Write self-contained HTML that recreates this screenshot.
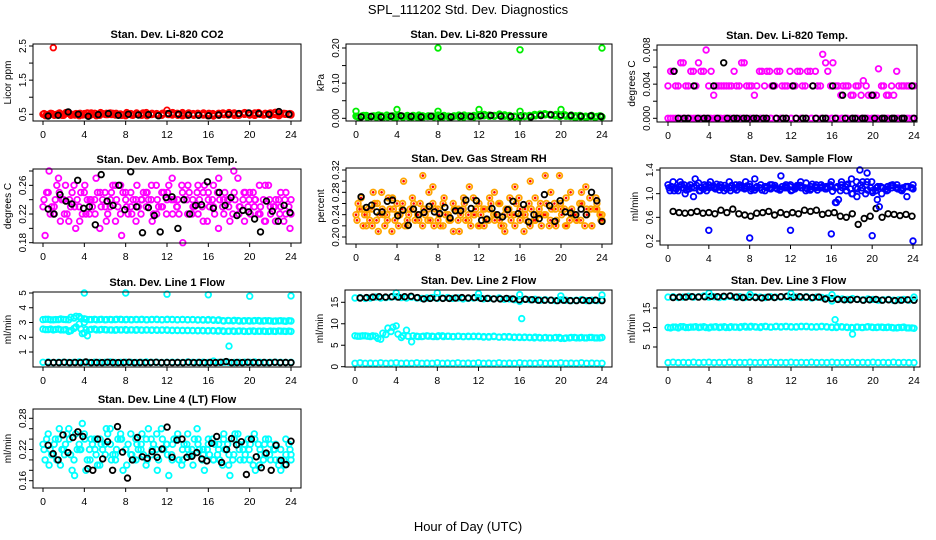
<!DOCTYPE html>
<html><head><meta charset="utf-8">
<style>
html,body{margin:0;padding:0;background:#fff;}
svg{display:block;font-family:"Liberation Sans",sans-serif;}
</style></head>
<body>
<svg id="chart" width="936" height="540" viewBox="0 0 936 540" xmlns="http://www.w3.org/2000/svg">
<rect x="0" y="0" width="936" height="540" fill="#fff"/>
<text x="468" y="14" text-anchor="middle" font-size="13">SPL_111202  Std. Dev. Diagnostics</text>
<text x="468" y="531" text-anchor="middle" font-size="13">Hour of Day (UTC)</text>
</svg>
<script>
// ---------- data arrays ----------
const hourTicks = [0,4,8,12,16,20,24];

// P1 CO2
const co2Red1 = [0.5,0.48,2.45,0.52,0.47,0.55,0.5,0.46,0.52,0.49,0.53,0.47,0.5,0.54,0.48,0.51,0.46,0.52,0.5,0.48,0.55,0.49,0.52,0.47,0.62,0.5,0.53,0.46,0.51,0.49,0.52,0.48,0.5,0.45,0.53,0.49,0.55,0.47,0.52,0.5,0.48,0.54,0.5,0.53,0.47,0.56,0.5,0.52,0.48];
const co2Red2 = [0.46,0.53,0.49,0.51,0.55,0.47,0.52,0.5,0.48,0.54,0.46,0.51,0.53,0.49,0.5,0.47,0.55,0.48,0.52,0.51,0.46,0.53,0.5,0.49,0.52,0.48,0.51,0.55,0.47,0.5,0.53,0.49,0.46,0.52,0.5,0.54,0.48,0.51,0.47,0.53,0.5,0.49,0.55,0.48,0.52,0.5,0.46,0.53,0.49];
const co2Red3 = [0.52,0.5,0.47,0.54,0.5,0.52,0.48,0.53,0.5,0.47,0.52,0.55,0.49,0.5,0.53,0.48,0.51,0.5,0.54,0.47,0.52,0.5,0.48,0.53,0.5,0.55,0.47,0.51,0.5,0.52,0.48,0.54,0.51,0.49,0.47,0.52,0.5,0.53,0.49,0.55,0.51,0.47,0.5,0.52,0.54,0.49,0.53,0.5,0.51];
const co2Red4 = [0.49,0.52,0.5,0.47,0.53,0.49,0.51,0.48,0.54,0.5,0.47,0.52,0.49,0.53,0.5,0.48,0.52,0.47,0.5,0.54,0.49,0.51,0.47,0.53,0.49,0.52,0.5,0.48,0.54,0.47,0.51,0.5,0.53,0.48,0.52,0.49,0.51,0.54,0.48,0.5,0.53,0.47,0.52,0.49,0.51,0.55,0.48,0.5,0.52];
const co2Black = [0.45,0.47,0.57,0.5,0.44,0.49,0.52,0.47,0.5,0.48,0.49,0.46,0.52,0.5,0.48,0.47,0.46,0.48,0.5,0.52,0.54,0.52,0.5,0.58,0.5];

// P2 Pressure
const presGreen1 = [0.006,0.004,0.008,0.005,0.003,0.007,0.009,0.005,0.004,0.006,0.008,0.004,0.003,0.007,0.005,0.006,0.009,0.004,0.006,0.005,0.007,0.003,0.006,0.008,0.01,0.007,0.009,0.006,0.008,0.01,0.007,0.005,0.004,0.006,0.003,0.007,0.01,0.012,0.009,0.011,0.008,0.006,0.009,0.004,0.006,0.003,0.008,0.005,0.004];
const presGreen2 = [0.003,0.008,0.005,0.007,0.009,0.004,0.006,0.003,0.008,0.005,0.004,0.007,0.009,0.005,0.006,0.004,0.003,0.008,0.005,0.007,0.004,0.009,0.005,0.006,0.008,0.011,0.006,0.008,0.012,0.007,0.004,0.006,0.003,0.005,0.008,0.011,0.009,0.013,0.01,0.007,0.005,0.01,0.006,0.003,0.008,0.004,0.006,0.003,0.007];
const presGreen3 = [0.005,0.007,0.003,0.006,0.008,0.005,0.004,0.007,0.006,0.003,0.005,0.008,0.006,0.004,0.007,0.005,0.008,0.006,0.004,0.006,0.009,0.005,0.007,0.004,0.006,0.009,0.008,0.007,0.01,0.006,0.008,0.004,0.006,0.007,0.005,0.009,0.012,0.01,0.011,0.008,0.007,0.009,0.005,0.007,0.004,0.006,0.005,0.004,0.006];
const presSpikeHours = [0,4,8,8,12,16,16,20,24];
const presSpikeVals = [0.02,0.025,0.2,0.02,0.025,0.195,0.02,0.025,0.2];
const presBlack = [0.004,0.005,0.004,0.006,0.007,0.005,0.004,0.006,0.005,0.004,0.006,0.005,0.007,0.008,0.006,0.005,0.007,0.004,0.008,0.01,0.009,0.008,0.006,0.007,0.005];

// P3 Li-820 temperature
const tempMagA = [0.0038,0.0055,0.0038,0.0065,0.0038,0.0055,0.0065,0.0055,0.0038,0.0027,0.0038,0.0038,0.0038,0.0055,0.0038,0.0065,0.0038,0.0027,0.0055,0.0038,0.0055,0.0038,0.0055,0.0038,0.0055,0.0038,0.0055,0.0038,0.0055,0.0055,0.0038,0.0065,0.0038,0.0038,0.0027,0.0038,0.0027,0.0038,0.0027,0.0038,0.0027,0.0027,0.0038,0.0027,0.0038,0.0055,0.0038,0.0038,0.0038];
const tempMagB = [0.0055,0.0038,0.0065,0.0038,0.0055,0.0038,0.0055,0.008,0.0055,0.0038,0.0038,0.0038,0.0038,0.0038,0.0065,0.0038,0.0038,0.0038,0.0055,0.0055,0.0038,0.0055,0.0038,0.0038,0.0038,0.0055,0.0038,0.0055,0.0038,0.0038,0.0075,0.0055,0.0065,0.0038,0.0038,0.0038,0.0027,0.0038,0.0044,0.0027,0.0027,0.0058,0.0038,0.0027,0.0027,0.0038,0.0038,0.0038,0.0038];
const tempMagZero = [0,0,0,0,0,0,0,0,0,0,0,0,0,0,0,0,0,0,0,0,0,0,0,0,0,0,0,0,0,0,0,0,0,0,0,0,0,0,0,0,0,0,0,0,0,0,0,0,0];
const tempMagZero2 = [0,0,0,0,0,0,0,0,0,0,0,0,0,0,0,0,0,0,0,0,0,0,0,0,0,0,0,0,0,0,0,0,0,0,0,0,0,0,0,0,0,0,0,0,0,0,0,0,0];
const tempBlack = [0.0055,0,0.0038,0,0.0038,0.0065,0,0,0,0,0.0038,0,0.0038,0,0.0038,0,0.0038,0.0027,0,0,0.0027,0,0,0,0.0038];
const tempBlackZero = [0,0,0,0,0,0,0,0,0,0,0,0,0,0,0,0,0,0,0,0,0,0,0,0,0];

// P4 Amb box temp
const ambMagA = [0.23,0.25,0.22,0.27,0.24,0.21,0.26,0.23,0.25,0.22,0.24,0.2,0.25,0.23,0.26,0.22,0.24,0.25,0.21,0.24,0.23,0.26,0.22,0.25,0.24,0.27,0.23,0.25,0.22,0.24,0.26,0.21,0.25,0.23,0.27,0.22,0.24,0.25,0.23,0.21,0.25,0.24,0.22,0.26,0.23,0.21,0.25,0.22,0.24];
const ambMagB = [0.19,0.22,0.24,0.21,0.26,0.23,0.2,0.25,0.22,0.24,0.27,0.23,0.21,0.25,0.24,0.19,0.23,0.22,0.26,0.24,0.25,0.21,0.24,0.23,0.25,0.22,0.24,0.18,0.26,0.23,0.22,0.25,0.24,0.26,0.2,0.24,0.23,0.28,0.22,0.25,0.24,0.23,0.26,0.21,0.24,0.23,0.22,0.24,0.2];
const ambMagC = [0.24,0.28,0.23,0.25,0.22,0.24,0.23,0.21,0.26,0.24,0.22,0.25,0.23,0.24,0.21,0.26,0.25,0.23,0.24,0.22,0.25,0.24,0.26,0.23,0.22,0.24,0.23,0.26,0.24,0.22,0.25,0.23,0.21,0.24,0.25,0.23,0.24,0.22,0.27,0.24,0.23,0.25,0.22,0.24,0.26,0.23,0.24,0.21,0.23];
const ambMagD = [0.25,0.23,0.26,0.24,0.22,0.25,0.24,0.22,0.24,0.23,0.25,0.24,0.22,0.26,0.23,0.25,0.22,0.24,0.23,0.25,0.24,0.22,0.23,0.25,0.26,0.24,0.22,0.24,0.25,0.23,0.24,0.26,0.23,0.22,0.24,0.25,0.21,0.24,0.23,0.25,0.22,0.24,0.23,0.21,0.22,0.24,0.23,0.25,0.22];
const ambBlack = [0.227,0.22,0.247,0.238,0.234,0.267,0.228,0.23,0.205,0.275,0.238,0.232,0.26,0.226,0.279,0.23,0.194,0.229,0.218,0.195,0.243,0.244,0.2,0.24,0.22,0.232,0.233,0.265,0.228,0.25,0.232,0.243,0.218,0.225,0.223,0.213,0.195,0.238,0.224,0.21,0.232,0.222];

// P5 Gas stream RH
const rhA = [0.24,0.27,0.22,0.25,0.23,0.28,0.24,0.21,0.26,0.25,0.23,0.27,0.24,0.22,0.25,0.29,0.23,0.26,0.24,0.21,0.25,0.27,0.23,0.24,0.26,0.22,0.25,0.28,0.23,0.24,0.27,0.22,0.25,0.24,0.3,0.23,0.26,0.24,0.28,0.22,0.25,0.27,0.24,0.23,0.28,0.25,0.22,0.26,0.24];
const rhB = [0.26,0.22,0.25,0.28,0.21,0.24,0.27,0.25,0.22,0.3,0.24,0.26,0.23,0.25,0.28,0.22,0.24,0.27,0.23,0.25,0.21,0.26,0.29,0.24,0.22,0.25,0.27,0.23,0.26,0.21,0.24,0.29,0.23,0.25,0.22,0.27,0.24,0.31,0.23,0.25,0.26,0.22,0.28,0.24,0.23,0.29,0.25,0.27,0.23];
const rhC = [0.23,0.25,0.24,0.22,0.26,0.25,0.23,0.27,0.24,0.26,0.22,0.25,0.24,0.31,0.23,0.26,0.25,0.22,0.24,0.26,0.23,0.25,0.24,0.27,0.22,0.25,0.23,0.24,0.26,0.22,0.25,0.24,0.27,0.21,0.26,0.23,0.25,0.24,0.22,0.26,0.31,0.25,0.23,0.24,0.26,0.22,0.27,0.25,0.24];
const rhD = [0.25,0.24,0.23,0.26,0.24,0.22,0.25,0.23,0.24,0.22,0.25,0.23,0.26,0.24,0.23,0.25,0.22,0.24,0.23,0.25,0.24,0.23,0.22,0.25,0.24,0.23,0.26,0.24,0.22,0.25,0.23,0.26,0.24,0.23,0.25,0.24,0.22,0.26,0.25,0.23,0.24,0.22,0.25,0.23,0.26,0.24,0.22,0.25,0.23];
const rhBlack = [0.272,0.253,0.257,0.245,0.245,0.264,0.266,0.238,0.248,0.221,0.25,0.24,0.244,0.255,0.245,0.242,0.253,0.234,0.247,0.247,0.266,0.251,0.265,0.23,0.232,0.251,0.24,0.236,0.249,0.264,0.242,0.258,0.227,0.24,0.233,0.276,0.256,0.228,0.265,0.245,0.243,0.24,0.25,0.24,0.28,0.265,0.228];

// P6 Sample flow
const sfBlueA = [1.15,1.2,1.05,1.1,1.12,0.95,1.18,1.08,1.15,1.1,1.12,1.05,1.2,1.1,1.15,1.08,1.12,1.25,1.1,1.05,1.15,1.1,1.08,1.12,1.15,1.1,1.2,1.05,1.12,1.1,1.15,1.08,1.12,1.1,1.2,1.15,1.0,0.95,1.1,1.2,1.05,0.9,1.1,1.12,1.15,1.08,1.1,1.12,1.15];
const sfBlueB = [1.05,1.1,1.2,1.0,1.15,1.25,1.05,1.12,1.2,1.08,1.15,1.1,1.05,1.15,1.1,1.2,1.05,1.1,1.15,1.12,1.08,1.1,1.3,1.15,1.05,1.12,1.1,1.18,1.08,1.15,1.1,1.12,1.2,0.85,1.15,1.05,1.25,1.2,1.05,1.15,1.2,1.1,1.0,1.05,1.1,1.15,1.05,0.95,1.1];
const sfBlueC = [1.1,1.05,1.12,1.15,1.08,1.1,1.05,1.15,1.1,1.12,1.06,1.14,1.1,1.08,1.12,1.1,1.16,1.06,1.1,1.12,1.1,1.14,1.06,1.1,1.12,1.08,1.14,1.1,1.06,1.12,1.1,1.08,1.15,1.1,1.05,1.12,1.08,1.1,1.15,1.0,1.1,1.05,1.12,1.08,1.14,1.1,1.06,1.12,1.1];
const sfBlueD = [1.12,1.08,1.15,1.06,1.1,1.14,1.1,1.05,1.12,1.16,1.1,1.08,1.14,1.06,1.1,1.13,1.08,1.12,1.06,1.1,1.15,1.08,1.12,1.1,1.06,1.14,1.1,1.08,1.16,1.06,1.12,1.1,1.04,1.12,1.1,1.16,1.0,1.08,1.2,1.06,1.02,1.12,1.1,1.06,1.14,1.1,1.08,1.12,1.08];
const sfOutHours = [4,8,12,16,16.4,16.7,18.8,19.5,20,20.7,24];
const sfOutVals = [0.38,0.25,0.38,0.32,0.85,0.9,1.4,1.35,0.29,0.78,0.2];
const sfBlack = [0.7,0.68,0.67,0.68,0.7,0.67,0.68,0.66,0.72,0.68,0.74,0.66,0.64,0.62,0.67,0.68,0.7,0.64,0.68,0.65,0.68,0.66,0.72,0.7,0.72,0.65,0.67,0.68,0.62,0.6,0.66,0.48,0.58,0.62,0.75,0.6,0.66,0.65,0.63,0.65,0.62];

// P7 Line 1
const l1Top = [3.2,3.22,3.18,3.2,3.21,3.19,3.3,3.4,3.25,3.2,3.22,3.2,3.18,3.21,3.2,3.22,3.19,3.2,3.21,3.2,3.18,3.2,3.22,3.19,3.2,3.21,3.18,3.2,3.19,3.2,3.18,3.17,3.2,3.15,3.18,3.1,3.12,3.15,3.1,3.12,3.1,3.13,3.1,3.12,3.11,3.1,3.12,3.08,3.1];
const l1Top2 = [3.22,3.18,3.2,3.24,3.2,3.35,3.42,3.28,3.22,3.2,3.18,3.22,3.2,3.19,3.22,3.2,3.21,3.18,3.2,3.22,3.19,3.21,3.2,3.18,3.22,3.2,3.19,3.21,3.18,3.2,3.17,3.19,3.16,3.18,3.14,3.12,3.14,3.11,3.13,3.1,3.12,3.11,3.13,3.1,3.12,3.09,3.11,3.1,3.12];
const l1Mid = [2.55,2.52,2.5,2.55,2.5,2.4,2.6,2.9,2.3,2.5,2.55,2.5,2.52,2.5,2.48,2.5,2.52,2.5,2.48,2.5,2.49,2.47,2.5,2.48,2.5,2.46,2.48,2.45,2.47,2.45,2.46,2.44,2.45,2.43,2.45,2.4,2.42,2.4,2.43,2.4,2.42,2.4,2.41,2.4,2.42,2.4,2.41,2.4,2.4];
const l1Mid2 = [2.52,2.55,2.53,2.5,2.52,2.45,2.7,2.55,2.52,2.54,2.5,2.53,2.5,2.49,2.51,2.5,2.48,2.5,2.51,2.48,2.5,2.49,2.47,2.5,2.47,2.48,2.46,2.47,2.45,2.46,2.44,2.46,2.43,2.45,2.42,2.44,2.41,2.43,2.41,2.42,2.4,2.43,2.41,2.42,2.4,2.41,2.43,2.41,2.42];
const l1Low = [0.3,0.32,0.28,0.3,0.31,0.29,0.3,0.33,0.3,0.29,0.31,0.3,0.3,0.32,0.29,0.3,0.31,0.3,0.29,0.3,0.32,0.3,0.31,0.29,0.3,0.31,0.3,0.29,0.32,0.3,0.3,0.31,0.29,0.38,0.3,0.31,0.3,0.29,0.3,0.31,0.3,0.32,0.3,0.29,0.3,0.31,0.3,0.29,0.3];
const l1OutHours = [3.8,4,4,4.3,8,12,16,18,20,24];
const l1OutVals = [2.25,3.0,5.0,2.1,5.0,4.92,4.88,1.4,4.78,4.8];
const l1Black = [0.28,0.29,0.28,0.3,0.28,0.29,0.28,0.32,0.28,0.29,0.28,0.3,0.29,0.28,0.29,0.3,0.28,0.29,0.28,0.29,0.3,0.28,0.29,0.28,0.29,0.28,0.3,0.28,0.29,0.28,0.29,0.28,0.3,0.35,0.28,0.29,0.28,0.3,0.29,0.28,0.29,0.28,0.3,0.28,0.29,0.28];

// P8 Line 2
const l2Top = [16,16.1,15.9,16,16.2,16,16.1,16.2,16.3,16.1,16,16.2,16,15.9,16,16.1,15.9,16,16.1,15.9,16,15.8,15.9,16,16.1,15.8,15.9,15.8,16,15.7,15.8,15.6,15.2,15.7,15.6,15.7,15.5,15.6,15.5,15.4,15.6,15.5,15.4,15.5,15.6,15.4,15.5,15.4,15.6];
const l2Mid = [7.2,7.1,7.2,7.0,7.1,6.4,7.5,8.2,9.5,6.8,8.5,5.8,7.1,7.0,7.2,7.1,7.0,7.2,7.1,7.0,7.1,7.0,7.1,7.0,7.1,6.9,7.0,7.1,6.9,7.0,6.9,6.9,6.8,6.9,6.8,6.9,6.7,6.8,6.7,6.8,6.6,6.7,6.8,6.7,6.8,6.7,6.8,6.7,6.8];
const l2Mid2 = [7.1,7.2,7.1,7.2,6.6,7.8,9.0,9.2,7.6,7.2,7.1,7.2,7.0,7.1,7.1,7.0,7.2,7.0,7.1,7.0,7.1,7.0,7.0,7.1,7.0,7.0,6.9,7.0,6.9,6.9,7.0,6.8,6.9,6.8,6.8,6.7,6.8,6.7,6.7,6.7,6.8,6.6,6.7,6.8,6.7,6.7,6.8,6.7,6.7];
const l2Low = [0.8,0.9,0.8,0.85,0.8,0.9,0.8,0.85,0.9,0.8,0.85,0.8,0.9,0.8,0.85,0.8,0.9,0.8,0.85,0.8,0.9,0.8,0.85,0.8,0.9,0.8,0.85,0.8,0.9,0.8,0.85,0.8,0.9,0.8,0.85,0.8,0.9,0.8,0.85,0.8,0.9,0.8,0.85,0.8,0.9,0.8,0.85,0.8,0.8];
const l2OutHours = [4,8,12,16,16.2,20,24];
const l2OutVals = [17.2,17.2,17,16.8,11.2,16.5,16.7];
const l2Black = [16,16.1,16.2,16.3,16.2,16.3,16.2,16.3,16.4,16.1,15.8,15.9,16,15.9,15.9,16,16.1,16,16.1,15.9,15.9,15.8,15.8,15.9,15.8,15.6,15.7,15.6,15.5,15.5,15.5,15.4,15.5,15.4,15.4,15.5,15.4,15.5,15.4];

// P9 Line 3
const l3Top = [17.8,17.9,17.7,17.8,18,17.8,17.9,18.1,17.8,17.9,17.7,17.8,18,17.8,17.9,17.7,17.8,17.9,17.8,17.7,17.9,17.8,17.8,17.9,17.7,17.8,17.7,17.9,17.6,17.8,17.7,17.6,16.8,17.4,17.3,17.2,17.4,17.2,17.1,17.3,17.2,17.0,17.1,17.2,17.0,17.1,17.2,17.0,17.1];
const l3Mid = [10,10.1,9.9,10.2,10,10.1,10,10.2,9.9,10.1,10,10.2,10,10.1,10,10.3,10.1,10.2,10,10.3,10.1,10.2,10.1,10.3,10.2,10.1,10.3,10.2,10.1,10.2,10.3,10.1,10,10.2,10.1,10.0,9.9,10.1,10.0,10.2,10.0,10.1,10.0,10.1,9.9,10.0,10.1,9.9,9.8];
const l3Mid2 = [9.9,10.1,10.2,10,10.1,10.2,10.1,10,10.1,10.2,10.1,10,10.2,10.1,10.2,10.1,10.3,10.1,10.2,10.2,10.1,10.3,10.2,10.2,10.1,10.2,10.2,10.3,10.2,10.1,10.2,10.2,10.1,10.0,10.2,10.1,10.0,10.1,10.0,10.1,10.1,10.0,10.1,10.0,10.0,9.9,10.0,9.9,9.9];
const l3Low = [1,1.1,1,1.05,1,1.1,1,1.05,1.1,1,1.05,1,1.1,1,1.05,1,1.1,1,1.05,1,1.1,1,1.05,1,1.1,1,1.05,1,1.1,1,1.05,1,1.1,1,1.05,1,1.1,1,1.05,1,1.1,1,1.05,1,1.1,1,1.05,1,1];
const l3OutHours = [4,8,12,16,16.3,18,24];
const l3OutVals = [18.8,18.5,18.7,18.4,12,8.3,17.8];
const l3Black = [17.7,17.8,17.8,17.9,17.8,17.9,18,17.9,18,18.1,17.8,17.7,17.8,17.7,17.6,17.8,17.7,17.9,18.0,17.8,17.9,17.8,17.7,17.8,17.3,17.4,17.2,17.1,17.1,17.2,17.0,17.1,17.2,17.0,17.1,16.9,17.0,17.1,17.0];

// P10 Line 4 (LT)
const l4A = [0.23,0.25,0.21,0.24,0.22,0.26,0.2,0.23,0.25,0.22,0.24,0.19,0.23,0.26,0.21,0.24,0.22,0.25,0.2,0.23,0.24,0.21,0.25,0.22,0.23,0.2,0.24,0.22,0.25,0.21,0.23,0.22,0.24,0.2,0.23,0.25,0.21,0.24,0.22,0.23,0.2,0.24,0.22,0.21,0.23,0.2,0.22,0.24,0.21];
const l4B = [0.2,0.22,0.24,0.19,0.23,0.21,0.25,0.22,0.18,0.24,0.21,0.23,0.26,0.2,0.22,0.24,0.19,0.21,0.23,0.25,0.2,0.22,0.18,0.24,0.21,0.23,0.25,0.2,0.22,0.19,0.24,0.21,0.23,0.2,0.22,0.24,0.19,0.21,0.23,0.2,0.22,0.25,0.19,0.23,0.21,0.22,0.2,0.19,0.22];
const l4C = [0.22,0.19,0.23,0.26,0.21,0.24,0.17,0.22,0.24,0.2,0.22,0.24,0.21,0.23,0.2,0.25,0.22,0.21,0.24,0.22,0.19,0.24,0.22,0.26,0.23,0.21,0.24,0.19,0.23,0.22,0.26,0.2,0.22,0.24,0.21,0.19,0.23,0.2,0.25,0.22,0.24,0.19,0.23,0.2,0.24,0.22,0.19,0.2,0.23];
const l4D = [0.24,0.21,0.2,0.22,0.25,0.18,0.22,0.27,0.2,0.23,0.19,0.22,0.25,0.21,0.24,0.18,0.23,0.2,0.22,0.21,0.26,0.23,0.2,0.22,0.17,0.24,0.2,0.23,0.21,0.24,0.22,0.18,0.21,0.23,0.2,0.22,0.17,0.25,0.2,0.21,0.23,0.18,0.21,0.24,0.2,0.23,0.18,0.21,0.2];
const l4Black = [0.228,0.212,0.2,0.248,0.214,0.243,0.254,0.245,0.183,0.18,0.24,0.202,0.235,0.18,0.264,0.215,0.165,0.2,0.243,0.206,0.203,0.216,0.205,0.221,0.263,0.205,0.238,0.24,0.205,0.207,0.214,0.202,0.198,0.232,0.245,0.195,0.22,0.241,0.229,0.235,0.172,0.24,0.206,0.185,0.213,0.18,0.228,0.199,0.191,0.236];

// ---------- panel layout ----------
const panels = [
 {name:'co2',title:'Stan. Dev. Li-820 CO2',ylab:'Licor ppm',L:33,R:301,T:44,B:121,x0:43,x24:291,v0:0.5,p0:114.3,v1:2.5,p1:46,
  ticks:[0.5,1,1.5,2,2.5],labels:['0.5','','1.5','','2.5']},
 {name:'pressure',title:'Stan. Dev. Li-820 Pressure',ylab:'kPa',L:346,R:612,T:44,B:121,x0:356,x24:602,v0:0,p0:118.3,v1:0.2,p1:48,
  ticks:[0,0.05,0.1,0.15,0.2],labels:['0.00','','0.10','','0.20']},
 {name:'li820-temp',title:'Stan. Dev. Li-820 Temp.',ylab:'degrees C',L:657,R:917,T:45,B:122,x0:668,x24:914,v0:0,p0:118.3,v1:0.008,p1:50,
  ticks:[0,0.002,0.004,0.006,0.008],labels:['0.000','','0.004','','0.008']},
 {name:'amb-box-temp',title:'Stan. Dev. Amb. Box Temp.',ylab:'degrees C',L:33,R:301,T:169,B:243,x0:43,x24:291,v0:0.18,p0:242.7,v1:0.28,p1:171,
  ticks:[0.18,0.2,0.22,0.24,0.26,0.28],labels:['0.18','','0.22','','0.26','']},
 {name:'gas-rh',title:'Stan. Dev. Gas Stream RH',ylab:'percent',L:346,R:612,T:168,B:244,x0:356,x24:602,v0:0.2,p0:237,v1:0.32,p1:170,
  ticks:[0.2,0.22,0.24,0.26,0.28,0.3,0.32],labels:['0.20','','0.24','','0.28','','0.32']},
 {name:'sample-flow',title:'Stan. Dev. Sample Flow',ylab:'ml/min',L:660,R:922,T:168,B:245,x0:668,x24:913,v0:0.2,p0:241,v1:1.4,p1:170,
  ticks:[0.2,0.6,1.0,1.4],labels:['0.2','0.6','1.0','1.4']},
 {name:'line1-flow',title:'Stan. Dev. Line 1 Flow',ylab:'ml/min',L:33,R:301,T:292,B:367,x0:43,x24:291,v0:1,p0:352,v1:5,p1:293,
  ticks:[1,2,3,4,5],labels:['1','2','3','4','5']},
 {name:'line2-flow',title:'Stan. Dev. Line 2 Flow',ylab:'ml/min',L:345,R:612,T:290,B:367,x0:355,x24:602,v0:0,p0:366.7,v1:15,p1:302.3,
  ticks:[0,5,10,15],labels:['0','5','10','15']},
 {name:'line3-flow',title:'Stan. Dev. Line 3 Flow',ylab:'ml/min',L:657,R:920,T:290,B:367,x0:668,x24:914,v0:5,p0:347,v1:15,p1:308,
  ticks:[5,10,15],labels:['5','10','15']},
 {name:'line4-flow',title:'Stan. Dev. Line 4 (LT) Flow',ylab:'ml/min',L:33,R:301,T:409,B:488,x0:43,x24:291,v0:0.16,p0:480.7,v1:0.28,p1:418.3,
  ticks:[0.16,0.18,0.2,0.22,0.24,0.26,0.28],labels:['0.16','','','0.22','','','0.28']}
];

// series: [panelIndex, valuesArray, startHour, endHour, color]
const series = [
 [0,co2Red1,0,24,'#ff0000'],[0,co2Red2,0.25,23.8,'#ff0000'],[0,co2Red3,0.1,24,'#ff0000'],[0,co2Red4,0.37,23.9,'#ff0000'],[0,co2Black,0.5,23.8,'#000'],
 [1,presGreen1,0,24,'#00ee00'],[1,presGreen2,0.25,23.8,'#00ee00'],[1,presGreen3,0.12,23.9,'#00ee00'],[1,presBlack,0.5,23.9,'#000'],
 [2,tempMagZero,0,24,'#ff00ff'],[2,tempMagZero2,0.25,23.8,'#ff00ff'],[2,tempMagA,0,23.8,'#ff00ff'],[2,tempMagB,0.25,24,'#ff00ff'],[2,tempBlackZero,1,24,'#000'],[2,tempBlack,0.6,23.8,'#000'],
 [3,ambMagA,0,24,'#ff00ff'],[3,ambMagB,0.2,23.9,'#ff00ff'],[3,ambMagC,0.1,23.8,'#ff00ff'],[3,ambMagD,0.35,24,'#ff00ff'],[3,ambBlack,0.5,23.9,'#000'],
 [4,rhA,0,24,'#ffa500'],[4,rhB,0.2,23.9,'#ffa500'],[4,rhC,0.1,23.8,'#ffa500'],[4,rhD,0.35,24,'#ffa500'],[4,rhBlack,0.5,24,'#000'],
 [5,sfBlueA,0,24,'#0000ff'],[5,sfBlueB,0.2,23.9,'#0000ff'],[5,sfBlueC,0.1,23.8,'#0000ff'],[5,sfBlueD,0.33,24,'#0000ff'],[5,sfBlack,0.5,23.9,'#000'],
 [6,l1Top,0,24,'#00ffff'],[6,l1Top2,0.25,23.8,'#00ffff'],[6,l1Mid,0,24,'#00ffff'],[6,l1Mid2,0.25,23.8,'#00ffff'],[6,l1Low,0,24,'#00ffff'],[6,l1Black,0.5,24,'#000'],
 [7,l2Top,0,24,'#00ffff'],[7,l2Mid,0,24,'#00ffff'],[7,l2Mid2,0.25,23.8,'#00ffff'],[7,l2Low,0,24,'#00ffff'],[7,l2Black,0.5,24,'#000'],
 [8,l3Top,0,24,'#00ffff'],[8,l3Mid,0,24,'#00ffff'],[8,l3Mid2,0.25,23.8,'#00ffff'],[8,l3Low,0,24,'#00ffff'],[8,l3Black,0.5,24,'#000'],
 [9,l4A,0,24,'#00ffff'],[9,l4B,0.2,23.9,'#00ffff'],[9,l4C,0.1,23.8,'#00ffff'],[9,l4D,0.35,24,'#00ffff'],[9,l4Black,0.5,24,'#000']
];
// explicit-hour series: [panelIndex, hours, values, color]
const pointSets = [
 [1,presSpikeHours,presSpikeVals,'#00ee00'],
 [5,sfOutHours,sfOutVals,'#0000ff'],
 [6,l1OutHours,l1OutVals,'#00ffff'],
 [7,l2OutHours,l2OutVals,'#00ffff'],
 [8,l3OutHours,l3OutVals,'#00ffff']
];

// ---------- drawing ----------
const NS='http://www.w3.org/2000/svg';
const svg=document.getElementById('chart');
function mk(tag,attrs,parent){const e=document.createElementNS(NS,tag);for(const k in attrs)e.setAttribute(k,attrs[k]);(parent||svg).appendChild(e);return e;}
function xS(p,h){return p.x0+(p.x24-p.x0)*h/24;}
function yS(p,v){return p.p0+(p.p1-p.p0)*(v-p.v0)/(p.v1-p.v0);}

panels.forEach((p,i)=>{
  const g=mk('g',{});
  
  
  p.g=g;
  const t=mk('text',{x:(p.L+p.R)/2,y:p.T-6,'text-anchor':'middle','font-size':11,'font-weight':'bold'},g);
  t.textContent=p.title;
  
  
  const yl=mk('text',{x:0,y:0,'text-anchor':'middle','font-size':10,transform:`translate(${p.L-22},${(p.T+p.B)/2}) rotate(-90)`},g);
  yl.textContent=p.ylab;
  
  
  const pg=mk('g',{},g);
  
  
  p.pg=pg;
  const ax=mk('g',{stroke:'#000','stroke-width':1},g);
  
  
  p.ax=ax;
});

function dot(p,h,v,color){
  const c=mk('circle',{cx:xS(p,h).toFixed(1),cy:yS(p,v).toFixed(1),r:2.8,fill:'none',stroke:color,'stroke-width':1.8},p.pg);
  
  
  if(color==='#ffa500'){
    const d=mk('circle',{cx:xS(p,h).toFixed(1),cy:yS(p,v).toFixed(1),r:1.3,fill:'#ff0000'},p.pg);
    
    
  }
}
series.forEach(s=>{
  const p=panels[s[0]],vals=s[1],h0=s[2],h1=s[3],n=vals.length;
  vals.forEach((v,i)=>{const h=n>1?h0+(h1-h0)*i/(n-1):h0;dot(p,h,v,s[4]);});
});
pointSets.forEach(s=>{
  const p=panels[s[0]];
  s[1].forEach((h,i)=>dot(p,h,s[2][i],s[3]));
});

panels.forEach(p=>{
  const ax=p.ax;
  const box=mk('rect',{x:p.L,y:p.T,width:p.R-p.L,height:p.B-p.T,fill:'none'},ax);
  
  
  hourTicks.forEach(h=>{
    const x=xS(p,h);
    mk('line',{x1:x,y1:p.B,x2:x,y2:p.B+4},ax);
    const t=mk('text',{x:x,y:p.B+17,'text-anchor':'middle','font-size':10.5,fill:'#000'},p.g);
    t.textContent=h;
    
    
  });
  p.ticks.forEach((v,i)=>{
    const y=yS(p,v);
    mk('line',{x1:p.L-4,y1:y,x2:p.L,y2:y},ax);
    if(p.labels[i]){
      const t=mk('text',{x:0,y:0,'text-anchor':'middle','font-size':10,fill:'#000',transform:`translate(${p.L-7},${y}) rotate(-90)`},p.g);
      t.textContent=p.labels[i];
      
      
    }
  });
});
</script>
</body></html>
